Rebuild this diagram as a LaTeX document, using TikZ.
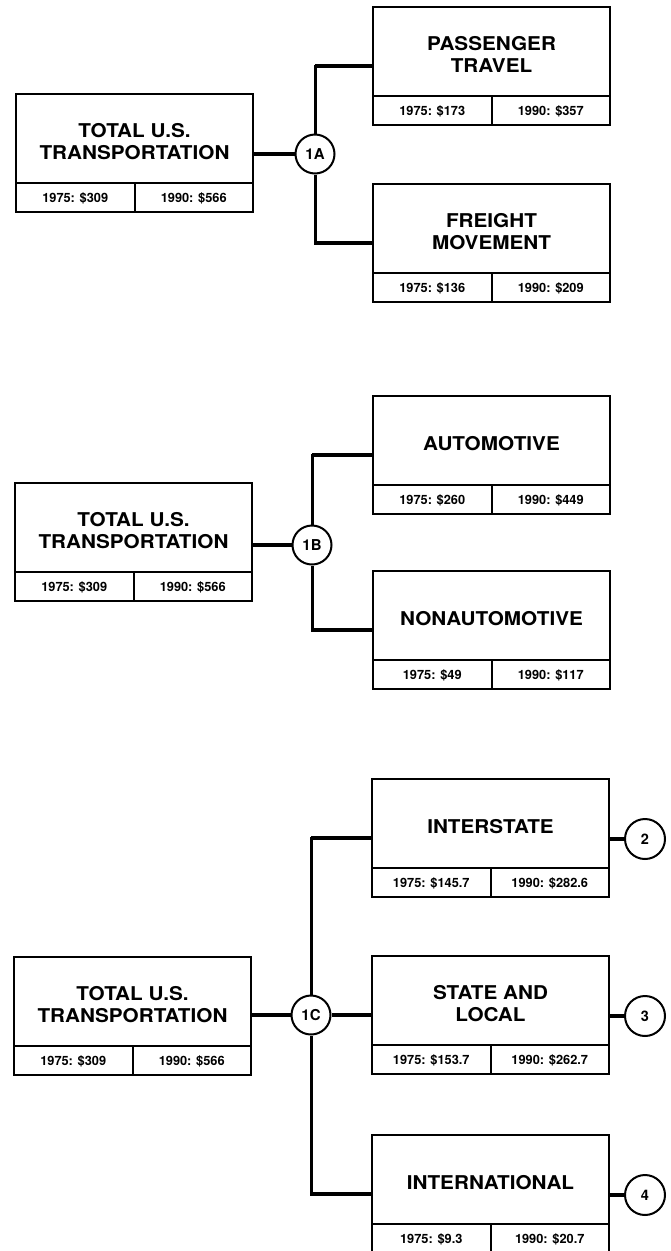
\documentclass[tikz,border=0pt]{standalone}
\usepackage{fontspec}
\setmainfont{TeX Gyre Heros}
\newfontfamily\titlefont[FakeStretch=1.09]{TeX Gyre Heros}
\newcommand\databox[5]{%
  \node[frame, anchor=north west] (#1) at (#2) {};
  \draw[rule] ([yshift=29pt]#1.south west) -- ([yshift=29pt]#1.south east);
  \draw[rule] ([yshift=29pt]#1.south) -- (#1.south);
  \node[ttl] (#1-title) at ([yshift=-47.5pt]#1.north) {#3};
  \node[cell] (#1-a) at ([xshift=-59.25pt,yshift=13.5pt]#1.south) {#4};
  \node[cell] (#1-b) at ([xshift=59.25pt,yshift=13.5pt]#1.south) {#5};
}
\begin{document}
\begin{tikzpicture}[x=1pt,y=-1pt,
  frame/.style={draw, line width=2pt, rectangle, minimum width=237pt, minimum height=118pt, inner sep=0pt, outer sep=0pt},
  ttl/.style={font=\titlefont\bfseries\fontsize{19}{22}\selectfont, align=center, inner sep=0pt},
  cell/.style={font=\bfseries\fontsize{12.8}{14}\selectfont, inner sep=0pt},
  hub/.style={draw, circle, line width=2pt, minimum size=39pt, inner sep=0pt, fill=white, font=\bfseries\fontsize{15}{17}\selectfont},
  endhub/.style={hub, minimum size=40pt, font=\bfseries\fontsize{14.5}{16}\selectfont},
  rule/.style={line width=2pt},
  trunk/.style={line width=3pt},
  branch/.style={line width=4pt},
  stub/.style={line width=4.5pt}]
\useasboundingbox[fill=white] (0,0) rectangle (670,1251);

% ---------- section 1 ----------
\databox{L1}{16,94}{TOTAL U.S.\\TRANSPORTATION}{1975: \$309}{1990: \$566}
\databox{P}{373,7}{PASSENGER\\TRAVEL}{1975: \$173}{1990: \$357}
\databox{F}{373,184}{FREIGHT\\MOVEMENT}{1975: \$136}{1990: \$209}
\node[hub] (c1a) at (315,154) {1A};
\draw[branch] (c1a.west) -- (c1a.west -| L1.east);
\draw[trunk] (c1a.north) |- (P.west);
\draw[trunk] (c1a.south) |- (F.west);
\draw[branch] (P.west) -- (P.west -| c1a);
\draw[branch] (F.west) -- (F.west -| c1a);

% ---------- section 2 ----------
\databox{L2}{15,483}{TOTAL U.S.\\TRANSPORTATION}{1975: \$309}{1990: \$566}
\databox{A}{373,396}{AUTOMOTIVE}{1975: \$260}{1990: \$449}
\databox{N}{373,571}{NONAUTOMOTIVE}{1975: \$49}{1990: \$117}
\node[hub] (c1b) at (312,545) {1B};
\draw[branch] (c1b.west) -- (c1b.west -| L2.east);
\draw[trunk] (c1b.north) |- (A.west);
\draw[trunk] (c1b.south) |- (N.west);
\draw[branch] (A.west) -- (A.west -| c1b);
\draw[branch] (N.west) -- (N.west -| c1b);

% ---------- section 3 ----------
\databox{L3}{14,957}{TOTAL U.S.\\TRANSPORTATION}{1975: \$309}{1990: \$566}
\databox{I}{372,779}{INTERSTATE}{1975: \$145.7}{1990: \$282.6}
\databox{S}{372,956}{STATE AND\\LOCAL}{1975: \$153.7}{1990: \$262.7}
\databox{X}{372,1135}{INTERNATIONAL}{1975: \$9.3}{1990: \$20.7}
\node[hub] (c1c) at (311,1015) {1C};
\draw[branch] (c1c.west) -- (c1c.west -| L3.east);
\draw[branch] (c1c.east) -- (c1c.east -| S.west);
\draw[trunk] (c1c.north) |- (I.west);
\draw[trunk] (c1c.south) |- (X.west);
\draw[branch] (I.west) -- (I.west -| c1c);
\draw[branch] (X.west) -- (X.west -| c1c);

\node[endhub] (n2) at (645,839) {2};
\node[endhub] (n3) at (645,1016) {3};
\node[endhub] (n4) at (645,1195) {4};
\draw[stub] (n2.west) -- (n2.west -| I.east);
\draw[stub] (n3.west) -- (n3.west -| S.east);
\draw[stub] (n4.west) -- (n4.west -| X.east);
\end{tikzpicture}
\end{document}
